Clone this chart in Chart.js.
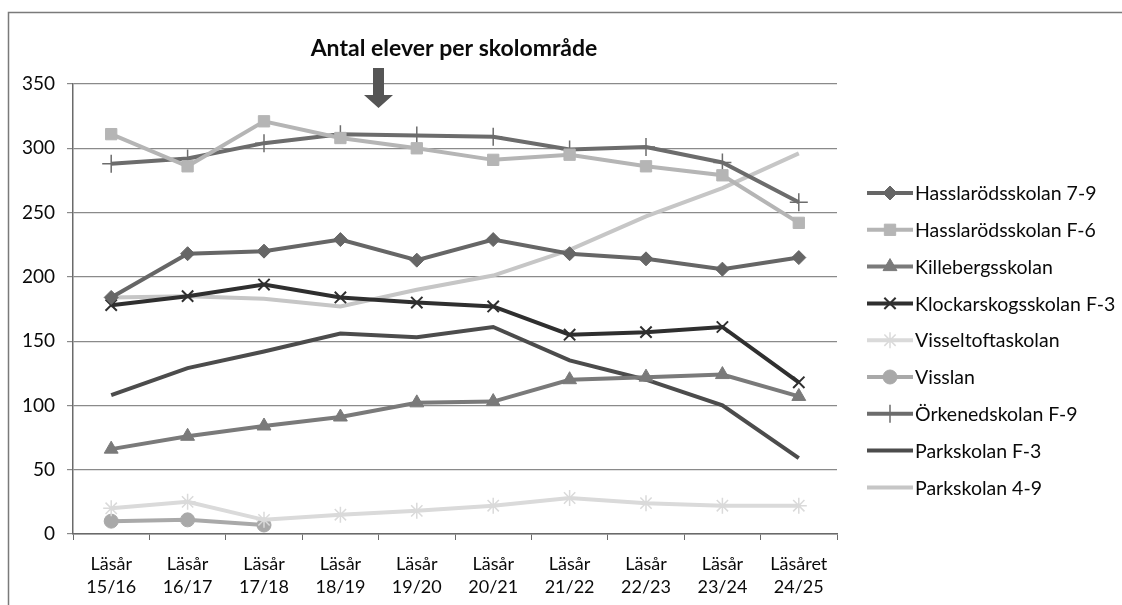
<!doctype html>
<html lang="sv">

<head>
	<meta charset="utf-8">
	<title>Antal elever per skolområde</title>
	<style>
		* {
			margin: 0;
			padding: 0;
		}

		body {
			background: #fff;
		}

		.chartBox {
			width: 1122px;
			height: 605px;
			position: relative;
		}
	</style>
</head>

<body>
	<div class="chartBox">
		<canvas id="elevChart"></canvas>
	</div>
	<script src="https://cdn.jsdelivr.net/npm/chart.js"></script>
	<script>
		// tick labels (two rows)
		const yearWord = ['Läsår', 'Läsår', 'Läsår', 'Läsår', 'Läsår', 'Läsår', 'Läsår', 'Läsår', 'Läsår', 'Läsåret']
		const years = ['15/16', '16/17', '17/18', '18/19', '19/20', '20/21', '21/22', '22/23', '23/24', '24/25']

		// series
		const hasslarod79 = [184, 218, 220, 229, 213, 229, 218, 214, 206, 215]
		const hasslarodF6 = [311, 286, 321, 308, 300, 291, 295, 286, 279, 242]
		const killeberg = [66, 76, 84, 91, 102, 103, 120, 122, 124, 107]
		const klockarskog = [178, 185, 194, 184, 180, 177, 155, 157, 161, 118]
		const visseltofta = [20, 25, 11, 15, 18, 22, 28, 24, 22, 22]
		const visslan = [10, 11, 7, null, null, null, null, null, null, null]
		const orkened = [288, 292, 304, 311, 310, 309, 299, 301, 289, 258]
		const parkF3 = [108, 129, 142, 156, 153, 161, 135, 120, 100, 59]
		const park49 = [184, 185, 183, 177, 190, 201, 221, 247, 269, 296]

		const seriesNames = ['Hasslarödsskolan 7-9', 'Hasslarödsskolan F-6', 'Killebergsskolan',
			'Klockarskogsskolan F-3', 'Visseltoftaskolan', 'Visslan', 'Örkenedskolan F-9',
			'Parkskolan F-3', 'Parkskolan 4-9']

		const FONT = 'Lato, "Open Sans", sans-serif'
		const ctx = document.getElementById('elevChart')

		function series(label, data, color, style, radius, pbw) {
			return {
				label: label,
				data: data,
				borderColor: color,
				backgroundColor: color,
				borderWidth: 4,
				tension: 0,
				pointStyle: style,
				pointRadius: style ? radius : 0,
				pointHoverRadius: style ? radius : 0,
				pointBorderColor: color,
				pointBackgroundColor: color,
				pointBorderWidth: pbw || 1,
				spanGaps: false
			}
		}

		const data = {
			labels: yearWord.map((w, i) => [w, years[i]]),
			datasets: [
				series(seriesNames[0], hasslarod79, '#666666', 'rectRot', 7),
				series(seriesNames[1], hasslarodF6, '#b5b5b5', 'rect', 8),
				series(seriesNames[2], killeberg, '#7a7a7a', 'triangle', 8),
				series(seriesNames[3], klockarskog, '#2f2f2f', 'crossRot', 8, 2),
				series(seriesNames[4], visseltofta, '#dadada', 'star', 8, 1.5),
				series(seriesNames[5], visslan, '#a9a9a9', 'circle', 7),
				series(seriesNames[6], orkened, '#6c6c6c', 'cross', 9, 1.5),
				series(seriesNames[7], parkF3, '#4c4c4c', false, 0),
				series(seriesNames[8], park49, '#c6c6c6', false, 0)
			]
		}

		// frame, title, arrow and legend
		const decor = {
			id: 'decor',
			beforeDraw(chart) {
				const c = chart.ctx
				c.save()
				c.fillStyle = '#fff'
				c.fillRect(0, 0, chart.width, chart.height)
				c.strokeStyle = '#7a7a7a'
				c.lineWidth = 1.5
				c.beginPath()
				c.moveTo(8.5, chart.height)
				c.lineTo(8.5, 12.5)
				c.lineTo(chart.width, 12.5)
				c.stroke()
				c.restore()
			},
			afterDraw(chart) {
				const c = chart.ctx
				c.save()
				// title
				c.fillStyle = '#0a0a0a'
				c.font = 'bold 23px ' + FONT
				c.textAlign = 'center'
				c.textBaseline = 'middle'
				c.fillText('Antal elever per skolområde', 454, 49)
				// arrow
				c.fillStyle = '#555'
				c.beginPath()
				c.moveTo(373, 68)
				c.lineTo(384, 68)
				c.lineTo(384, 95)
				c.lineTo(393, 95)
				c.lineTo(378.5, 108)
				c.lineTo(364, 95)
				c.lineTo(373, 95)
				c.closePath()
				c.fill()
				// legend
				c.font = '19.5px ' + FONT
				c.textAlign = 'left'
				chart.data.datasets.forEach((ds, i) => {
					const y = 193 + i * 36.8
					c.strokeStyle = ds.borderColor
					c.lineWidth = 4
					c.beginPath()
					c.moveTo(867, y)
					c.lineTo(913, y)
					c.stroke()
					if (ds.pointStyle) {
						c.fillStyle = ds.pointBackgroundColor
						c.strokeStyle = ds.pointBorderColor
						c.lineWidth = ds.pointBorderWidth
						Chart.helpers.drawPoint(c, {
							pointStyle: ds.pointStyle,
							radius: ds.pointRadius,
							borderWidth: ds.pointBorderWidth,
							rotation: 0
						}, 890, y)
					}
					c.fillStyle = '#0a0a0a'
					c.fillText(ds.label, 915, y + 1)
				})
				c.restore()
			}
		}

		const config = {
			type: 'line',
			data,
			options: {
				responsive: true,
				maintainAspectRatio: false,
				animation: false,
				layout: {
					padding: { left: 0, top: 84, right: 285, bottom: 0 }
				},
				scales: {
					x: {
						offset: true,
						afterFit: (scale) => { scale.height = 71 },
						grid: {
							offset: true,
							drawOnChartArea: false,
							drawTicks: true,
							tickLength: 6,
							color: '#6a6a6a'
						},
						border: { display: true, color: '#6a6a6a', width: 1.5 },
						ticks: {
							color: '#0a0a0a',
							font: { family: FONT, size: 18, lineHeight: 1.3 },
							padding: 12,
							maxRotation: 0,
							autoSkip: false
						}
					},
					y: {
						min: 0,
						max: 350,
						afterFit: (scale) => { scale.width = 73 },
						grid: {
							color: '#8a8a8a',
							lineWidth: 1.2,
							tickLength: 6
						},
						border: { display: true, color: '#6a6a6a', width: 1.5 },
						ticks: {
							stepSize: 50,
							color: '#0a0a0a',
							font: { family: FONT, size: 19 },
							padding: 12
						}
					}
				},
				plugins: {
					legend: { display: false },
					title: { display: false },
					tooltip: { enabled: false }
				}
			},
			plugins: [decor]
		}

		const elevChart = new Chart(ctx, config)
	</script>
</body>

</html>
